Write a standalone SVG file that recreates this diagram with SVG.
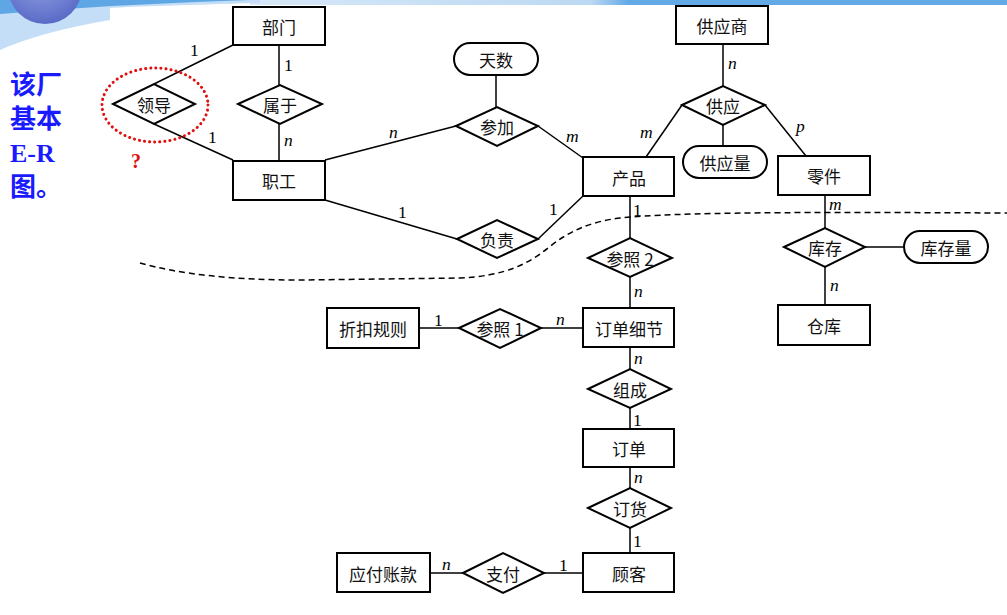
<svg xmlns="http://www.w3.org/2000/svg" width="1007" height="615" viewBox="0 0 1007 615">
<defs>
<radialGradient id="ball" cx="0.45" cy="0.35" r="0.7">
<stop offset="0" stop-color="#9aa8e8"/>
<stop offset="1" stop-color="#5566c4"/>
</radialGradient>
<linearGradient id="band" x1="0" y1="0" x2="1" y2="0">
<stop offset="0" stop-color="#d6e8f8"/>
<stop offset="0.45" stop-color="#bcd9f3"/>
<stop offset="0.5" stop-color="#62a9e6"/>
<stop offset="1" stop-color="#62a9e6"/>
</linearGradient>
</defs>
<style>
.ent{fill:#fff;stroke:#000;stroke-width:2}
.rel{fill:#fff;stroke:#000;stroke-width:2}
.attr{fill:#fff;stroke:#000;stroke-width:2}
.t{font-family:"Noto Sans CJK SC","Noto Sans CJK JP",sans-serif;font-size:17px;fill:#111;text-anchor:middle;dominant-baseline:central}
.c{font-family:"Liberation Serif",serif;font-size:17.5px;fill:#000}
.i{font-style:italic}
#connectors line,#connectors polyline{stroke:#000;stroke-width:1.5;fill:none}
.title{font-family:"Liberation Serif","Noto Sans CJK SC",sans-serif;font-size:26px;font-weight:bold;fill:#1a1aff}
</style>
<rect width="1007" height="615" fill="#fff"/>
<g id="background">
<rect x="250" y="0" width="757" height="5" fill="url(#band)"/>
<path d="M0,0 L260,0 L260,3 Q150,6 110,8 L110,20 Q40,32 0,50 Z" fill="#c3def6"/>
<path d="M0,0 L250,0 Q120,4 0,14 Z" fill="#5ea6e4"/>
<circle cx="45" cy="-13" r="37" fill="url(#ball)"/>
</g>
<g id="title">
<text class="title" x="10" y="94">该厂</text>
<text class="title" x="10" y="128">基本</text>
<text class="title" x="10" y="162">E-R</text>
<text class="title" x="10" y="196">图。</text>
</g>
<path id="divider" d="M140,263 Q200,280 300,280 L460,278 C505,276 528,264 548,248 C568,232 588,222 620,218 C680,212 800,212 1007,213" fill="none" stroke="#000" stroke-width="1.5" stroke-dasharray="6,4"/>
<g id="connectors">
<line x1="233" y1="45" x2="154" y2="84"/>
<line x1="154" y1="124" x2="233" y2="160"/>
<line x1="279" y1="45" x2="279" y2="85"/>
<line x1="279" y1="124" x2="279" y2="160"/>
<line x1="325" y1="160" x2="456" y2="126"/>
<line x1="496" y1="75" x2="496" y2="107"/>
<line x1="538" y1="126" x2="583" y2="158"/>
<line x1="325" y1="200" x2="457" y2="239"/>
<line x1="538" y1="239" x2="583" y2="196"/>
<line x1="723" y1="44" x2="723" y2="86"/>
<line x1="682" y1="105" x2="646" y2="157"/>
<line x1="723" y1="125" x2="723" y2="146"/>
<line x1="765" y1="105" x2="806" y2="156"/>
<line x1="825" y1="195" x2="825" y2="228"/>
<line x1="865" y1="247" x2="904" y2="247"/>
<line x1="825" y1="267" x2="825" y2="305"/>
<line x1="630" y1="196" x2="630" y2="238"/>
<line x1="630" y1="277" x2="630" y2="308"/>
<line x1="419" y1="328" x2="459" y2="328"/>
<line x1="541" y1="328" x2="583" y2="328"/>
<line x1="630" y1="347" x2="630" y2="369"/>
<line x1="630" y1="408" x2="630" y2="429"/>
<line x1="630" y1="467" x2="630" y2="488"/>
<line x1="630" y1="528" x2="630" y2="553"/>
<line x1="583" y1="573" x2="544" y2="573"/>
<line x1="463" y1="573" x2="430" y2="573"/>
</g>
<g id="cardinalities">
<text class="c" x="190" y="56">1</text>
<text class="c" x="208" y="143">1</text>
<text class="c" x="284" y="71">1</text>
<text class="c i" x="284" y="146">n</text>
<text class="c i" x="389" y="138">n</text>
<text class="c i" x="566" y="142">m</text>
<text class="c" x="398" y="218">1</text>
<text class="c" x="549" y="215">1</text>
<text class="c" x="633" y="216">1</text>
<text class="c i" x="640" y="138">m</text>
<text class="c i" x="728" y="69">n</text>
<text class="c i" x="796" y="132">p</text>
<text class="c i" x="829" y="210">m</text>
<text class="c i" x="830" y="291">n</text>
<text class="c i" x="634" y="297">n</text>
<text class="c" x="434" y="326">1</text>
<text class="c i" x="556" y="325">n</text>
<text class="c i" x="634" y="364">n</text>
<text class="c" x="633" y="426">1</text>
<text class="c i" x="634" y="483">n</text>
<text class="c" x="633" y="547">1</text>
<text class="c" x="559" y="571">1</text>
<text class="c i" x="442" y="570">n</text>
</g>
<g id="n-bumen"><rect class="ent" x="233" y="7" width="92" height="38"/><text class="t" x="279" y="26">部门</text></g>
<g id="n-zhigong"><rect class="ent" x="233" y="161" width="92" height="39"/><text class="t" x="279" y="180">职工</text></g>
<g id="n-lingdao"><polygon class="rel" points="113,104 154,84 195,104 154,124"/><text class="t" x="154" y="104">领导</text></g>
<g id="n-shuyu"><polygon class="rel" points="238,104 280,85 322,104 280,124"/><text class="t" x="280" y="104">属于</text></g>
<g id="n-tianshu"><rect class="attr" x="454" y="43" width="84" height="32" rx="16"/><text class="t" x="496" y="59">天数</text></g>
<g id="n-canjia"><polygon class="rel" points="456,126 497,107 538,126 497,146"/><text class="t" x="497" y="126">参加</text></g>
<g id="n-fuze"><polygon class="rel" points="457,239 497,220 538,239 497,258"/><text class="t" x="497" y="239">负责</text></g>
<g id="n-chanpin"><rect class="ent" x="583" y="157" width="91" height="39"/><text class="t" x="629" y="177">产品</text></g>
<g id="n-gongyingshang"><rect class="ent" x="676" y="6" width="92" height="38"/><text class="t" x="722" y="25">供应商</text></g>
<g id="n-gongying"><polygon class="rel" points="682,105 723,86 765,105 723,125"/><text class="t" x="723" y="105">供应</text></g>
<g id="n-gongyingliang"><rect class="attr" x="683" y="146" width="84" height="32" rx="16"/><text class="t" x="725" y="162">供应量</text></g>
<g id="n-lingjian"><rect class="ent" x="778" y="156" width="92" height="39"/><text class="t" x="824" y="175">零件</text></g>
<g id="n-kucun"><polygon class="rel" points="784,247 825,228 865,247 825,267"/><text class="t" x="825" y="247">库存</text></g>
<g id="n-kucunliang"><rect class="attr" x="904" y="231" width="84" height="32" rx="16"/><text class="t" x="946" y="247">库存量</text></g>
<g id="n-cangku"><rect class="ent" x="778" y="305" width="92" height="40"/><text class="t" x="824" y="325">仓库</text></g>
<g id="n-canzhao2"><polygon class="rel" points="588,258 630,238 672,258 630,277"/><text class="t" x="630" y="258">参照 2</text></g>
<g id="n-dingdanxijie"><rect class="ent" x="583" y="308" width="91" height="39"/><text class="t" x="629" y="328">订单细节</text></g>
<g id="n-canzhao1"><polygon class="rel" points="459,328 500,309 541,328 500,348"/><text class="t" x="500" y="328">参照 1</text></g>
<g id="n-zhekouguize"><rect class="ent" x="327" y="308" width="92" height="40"/><text class="t" x="373" y="328">折扣规则</text></g>
<g id="n-zucheng"><polygon class="rel" points="588,389 630,369 671,389 630,408"/><text class="t" x="630" y="389">组成</text></g>
<g id="n-dingdan"><rect class="ent" x="583" y="429" width="91" height="38"/><text class="t" x="629" y="448">订单</text></g>
<g id="n-dinghuo"><polygon class="rel" points="588,508 630,488 671,508 630,528"/><text class="t" x="630" y="508">订货</text></g>
<g id="n-guke"><rect class="ent" x="583" y="553" width="91" height="39"/><text class="t" x="629" y="573">顾客</text></g>
<g id="n-zhifu"><polygon class="rel" points="463,573 503,553 544,573 503,593"/><text class="t" x="503" y="573">支付</text></g>
<g id="n-yingfuzhangkuan"><rect class="ent" x="337" y="553" width="93" height="39"/><text class="t" x="383" y="573">应付账款</text></g>
<g id="annotation">
<ellipse cx="155" cy="105" rx="53" ry="37" fill="none" stroke="#e01010" stroke-width="3" stroke-dasharray="0.1,5" stroke-linecap="round"/>
<text x="131" y="168" font-family="Liberation Serif,serif" font-size="20" font-weight="bold" fill="#e01010">?</text>
</g>
</svg>
